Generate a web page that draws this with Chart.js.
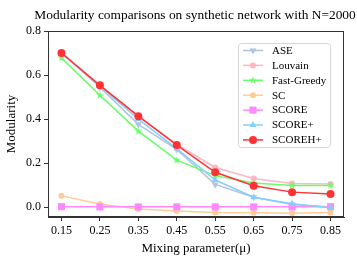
<!DOCTYPE html>
<html>
<head>
<meta charset="utf-8">
<script src="https://cdn.jsdelivr.net/npm/chart.js@4"></script>
<style>
  html, body { margin: 0; padding: 0; background: #fff; }
  #wrap { width: 357px; height: 268px; }
</style>
</head>
<body>
<div id="wrap"><canvas id="modChart" width="357" height="268"></canvas></div>
<script>
const mixing = [0.15, 0.25, 0.35, 0.45, 0.55, 0.65, 0.75, 0.85];
const yTicks = [0.0, 0.2, 0.4, 0.6, 0.8];

const ase = [0.700, 0.545, 0.376, 0.262, 0.103, 0.045, 0.012, 0.000];
const louvain = [0.700, 0.552, 0.412, 0.285, 0.180, 0.130, 0.107, 0.105];
const fastGreedy = [0.678, 0.508, 0.345, 0.213, 0.143, 0.110, 0.098, 0.098];
const sc = [0.051, 0.014, -0.009, -0.018, -0.025, -0.026, -0.028, -0.025];
const score = [0.002, 0.001, 0.001, 0.001, 0.001, 0.001, 0.001, 0.002];
const scorePlus = [0.700, 0.550, 0.400, 0.266, 0.123, 0.045, 0.015, -0.003];
const scorehPlus = [0.700, 0.553, 0.413, 0.282, 0.158, 0.097, 0.068, 0.060];

const serif = "'Liberation Serif', 'DejaVu Serif', serif";

// filled star like matplotlib '*'
function starImage(color, size) {
  const c = document.createElement('canvas');
  c.width = size; c.height = size;
  const ctx = c.getContext('2d');
  const cx = size / 2, cy = size / 2, R = size / 2, r = R * 0.42;
  ctx.beginPath();
  for (let i = 0; i < 10; i++) {
    const rad = i % 2 === 0 ? R : r;
    const a = -Math.PI / 2 + i * Math.PI / 5;
    ctx.lineTo(cx + rad * Math.cos(a), cy + rad * Math.sin(a));
  }
  ctx.closePath();
  ctx.fillStyle = color;
  ctx.fill();
  return c;
}

function series(label, data, color, style, radius, rotation) {
  return {
    label: label,
    data: data.map((v, i) => ({ x: mixing[i], y: v })),
    borderColor: color,
    backgroundColor: color,
    pointBackgroundColor: color,
    pointBorderColor: color,
    borderWidth: 1.5,
    pointStyle: style,
    pointRadius: radius,
    pointRotation: rotation || 0,
    pointBorderWidth: 0,
    tension: 0
  };
}

const datasets = [
  series('ASE', ase, '#B0C4DE', 'triangle', 4, 180),
  series('Louvain', louvain, '#FFB6C1', 'circle', 3),
  series('Fast-Greedy', fastGreedy, '#66FF66', starImage('#66FF66', 8), 4),
  series('SC', sc, '#FFCC99', 'circle', 3),
  series('SCORE', score, '#FF88FF', 'rect', 5),
  series('SCORE+', scorePlus, '#87CEFA', 'triangle', 4),
  series('SCOREH+', scorehPlus, '#FF3333', 'circle', 4)
];
datasets.forEach((d, i) => { d.order = datasets.length - i; });

const framePlugin = {
  id: 'frame',
  afterDraw(chart) {
    const ctx = chart.ctx, a = chart.chartArea;
    ctx.save();
    ctx.strokeStyle = '#333';
    ctx.lineWidth = 1;
    ctx.strokeRect(a.left + 0.5, a.top + 0.5, a.right - a.left - 1, a.bottom - a.top - 1);

    // title
    ctx.fillStyle = '#000';
    ctx.font = '13.4px ' + serif;
    ctx.textAlign = 'center';
    ctx.textBaseline = 'middle';
    ctx.fillText('Modularity comparisons on synthetic network with N=2000', 195, 15);

    // legend inside plot, upper right
    const bx = 238, by = 43, bw = 92, bh = 104;
    ctx.fillStyle = 'rgba(255,255,255,0.8)';
    ctx.strokeStyle = '#d6d6d6';
    ctx.beginPath();
    ctx.roundRect(bx + 0.5, by + 0.5, bw, bh, 3);
    ctx.fill();
    ctx.stroke();
    chart.data.datasets.forEach((d, i) => {
      const y = by + 7.5 + i * 14.9;
      ctx.strokeStyle = d.borderColor;
      ctx.lineWidth = 1.5;
      ctx.beginPath();
      ctx.moveTo(bx + 5, y);
      ctx.lineTo(bx + 25, y);
      ctx.stroke();
      ctx.fillStyle = d.backgroundColor;
      Chart.helpers.drawPoint(ctx, {
        pointStyle: d.pointStyle, rotation: d.pointRotation,
        radius: d.pointRadius, borderWidth: 0
      }, bx + 15, y);
      ctx.fillStyle = '#000';
      ctx.font = '11px ' + serif;
      ctx.textAlign = 'left';
      ctx.fillText(d.label, bx + 34, y + 0.5);
    });
    ctx.restore();
  }
};

new Chart(document.getElementById('modChart'), {
  type: 'line',
  data: { datasets: datasets },
  options: {
    responsive: false,
    animation: false,
    layout: { padding: { top: 31, right: 13, left: 0, bottom: 0 } },
    plugins: { legend: { display: false }, tooltip: { enabled: false } },
    scales: {
      x: {
        type: 'linear',
        min: 0.115,
        max: 0.885,
        afterBuildTicks: s => { s.ticks = mixing.map(v => ({ value: v })); },
        afterFit: s => { s.height = 51; },
        ticks: {
          color: '#000',
          font: { family: serif, size: 12 },
          padding: 3,
          maxRotation: 0,
          autoSkip: false,
          callback: v => Number(v).toFixed(2)
        },
        grid: { drawOnChartArea: false, drawTicks: true, tickLength: 4, color: '#333' },
        border: { color: '#333' },
        title: {
          display: true,
          text: 'Mixing parameter(μ)',
          color: '#000',
          font: { family: serif, size: 13 },
          padding: { top: 4, bottom: 12 }
        }
      },
      y: {
        min: -0.045,
        max: 0.8,
        afterBuildTicks: s => { s.ticks = yTicks.map(v => ({ value: v })); },
        afterFit: s => { s.width = 48; },
        ticks: {
          color: '#000',
          font: { family: serif, size: 12 },
          padding: 3,
          callback: v => Number(v).toFixed(1)
        },
        grid: { drawOnChartArea: false, drawTicks: true, tickLength: 4, color: '#333' },
        border: { color: '#333' },
        title: {
          display: true,
          text: 'Modularity',
          color: '#000',
          font: { family: serif, size: 13 },
          padding: { top: 4, bottom: 2 }
        }
      }
    }
  },
  plugins: [framePlugin]
});
</script>
</body>
</html>
